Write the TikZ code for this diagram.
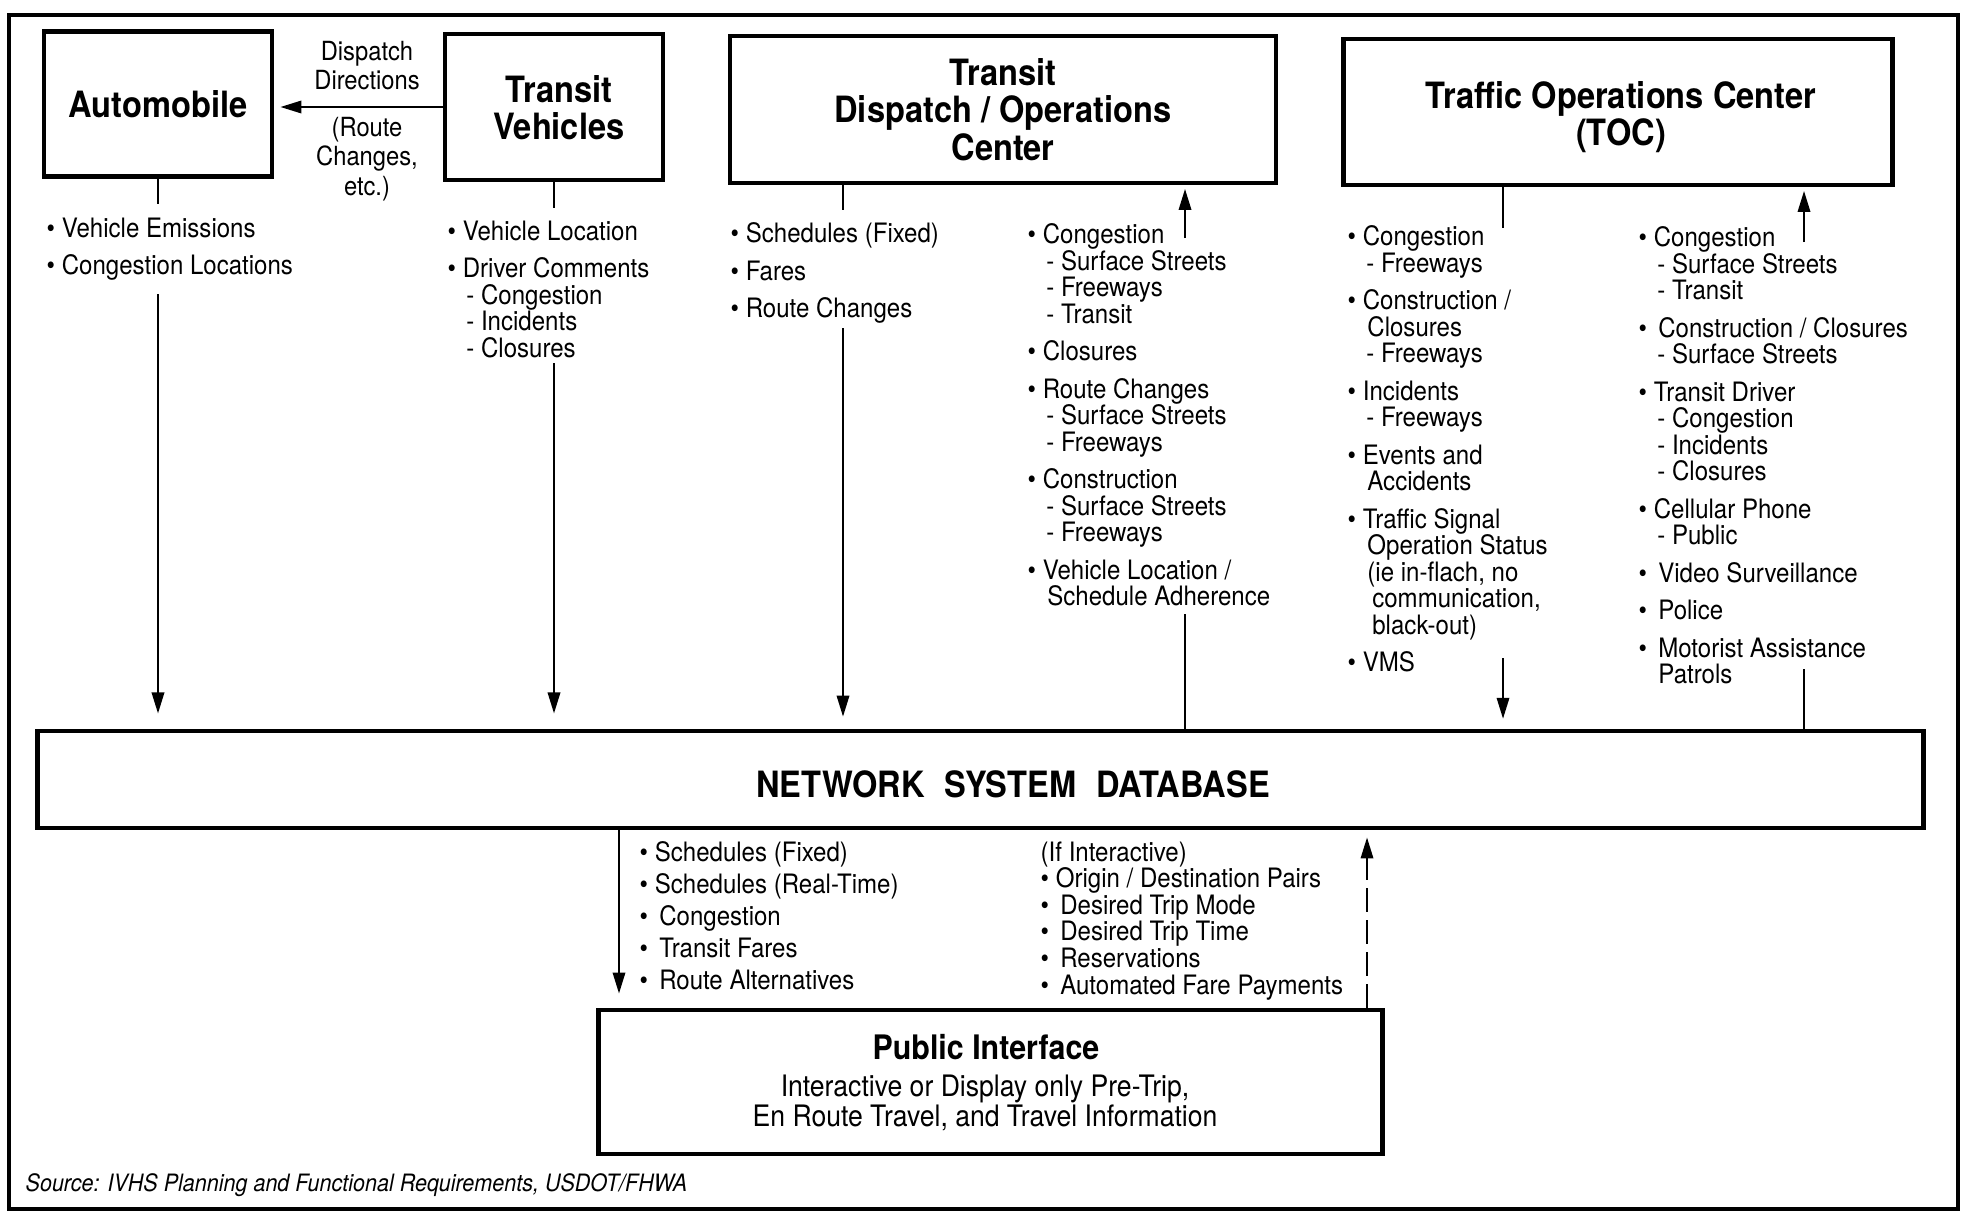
\documentclass[tikz,border=0pt]{standalone}
\usepackage{fontspec}
\setmainfont{TeX Gyre Heros}[FakeStretch=0.9]
\usetikzlibrary{arrows.meta}

\newcommand{\subln}{\hspace*{5.3pt}- }
\newcommand{\contln}{\hspace*{5.6pt}}

\tikzset{
  box/.style={draw, line width=1.3pt, inner sep=0pt, align=center, font=\fontsize{10.3}{10.6}\selectfont\bfseries},
  title/.style={inner sep=0pt, align=center, font=\fontsize{10.3}{10.6}\selectfont\bfseries},
  items/.style={anchor=north west, inner sep=0pt, align=left, font=\fontsize{7.6}{7.55}\selectfont},
  lbl/.style={inner sep=0pt, align=center, font=\fontsize{7.5}{8.3}\selectfont},
  link/.style={line width=0.7pt},
  arr/.style={line width=0.7pt, -{Triangle[length=6pt,width=3.5pt]}},
}

\begin{document}
\begin{tikzpicture}[x=0.01cm, y=-0.01cm]
\useasboundingbox (0,0) rectangle (1964,1212);
\draw[line width=1.4pt] (9,15) rectangle (1958,1209);

%% boxes
\node[box, minimum width=2.28cm, minimum height=1.45cm] (auto) at (158,104) {Automobile};
\node[box, minimum width=2.18cm, minimum height=1.46cm] (tv) at (554,107) {};
\node[title] (tvtitle) at (559,108) {Transit\\Vehicles};
\node[box, minimum width=5.46cm, minimum height=1.47cm] (disp) at (1003,109.5) {Transit\\Dispatch / Operations\\Center};
\node[box, minimum width=5.49cm, minimum height=1.46cm] (toc) at (1618,112) {};
\node[title] (toctitle) at (1621,117) {Traffic Operations Center\\(TOC)};
\node[box, minimum width=18.85cm, minimum height=0.97cm] (db) at (980.5,779.5) {};
\node[title] (dbtitle) at (1013,784) {NETWORK\hspace{0.55em}SYSTEM\hspace{0.55em}DATABASE};
\node[box, minimum width=7.83cm, minimum height=1.44cm] (pub) at (990.5,1082) {};
\node[title, font=\fontsize{9.6}{10}\selectfont\bfseries] (pubtitle) at (986,1047) {Public Interface};
\node[lbl, font=\fontsize{8.4}{8.5}\selectfont] (pubtext) at (985,1103) {Interactive or Display only Pre-Trip,\\En Route Travel, and Travel Information};

%% dispatch directions
\draw[arr, shorten >=1.7pt] (tv.west) -- (tv.west -| auto.east);
\node[lbl] (dirlbl) at (367,65.5) {Dispatch\\Directions};
\node[lbl] (routelbl) at (367,159) {(Route\\Changes,\\etc.)};

%% item lists
\node[items] (autolist) at (46,217) {• Vehicle Emissions\\[3.1pt]• Congestion Locations};
\node[items] (tvlist) at (447,220) {• Vehicle Location\\[3.1pt]• Driver Comments\\\subln Congestion\\\subln Incidents\\\subln Closures};
\node[items] (displeft) at (730,222) {• Schedules (Fixed)\\[3.1pt]• Fares\\[3.1pt]• Route Changes};
\node[items] (dispright) at (1027,223) {• Congestion\\\subln Surface Streets\\\subln Freeways\\\subln Transit\\[3.1pt]%
• Closures\\[3.1pt]• Route Changes\\\subln Surface Streets\\\subln Freeways\\[3.1pt]%
• Construction\\\subln Surface Streets\\\subln Freeways\\[3.1pt]%
• Vehicle Location /\\\contln Schedule Adherence};
\node[items] (tocleft) at (1347,225) {• Congestion\\\subln Freeways\\[3.1pt]%
• Construction /\\\contln Closures\\\subln Freeways\\[3.1pt]%
• Incidents\\\subln Freeways\\[3.1pt]%
• Events and\\\contln Accidents\\[3.1pt]%
• Traffic Signal\\\contln Operation Status\\\contln (ie in-flach, no\\\hspace*{7pt}communication,\\\hspace*{7pt}black-out)\\[3.1pt]%
• VMS};
\node[items] (tocright) at (1638,226) {• Congestion\\\subln Surface Streets\\\subln Transit\\[3.1pt]%
• \,Construction / Closures\\\subln Surface Streets\\[3.1pt]%
• Transit Driver\\\subln Congestion\\\subln Incidents\\\subln Closures\\[3.1pt]%
• Cellular Phone\\\subln Public\\[3.1pt]%
• \,Video Surveillance\\[3.1pt]• \,Police\\[3.1pt]%
• \,Motorist Assistance\\\contln Patrols};
\node[items, font=\fontsize{7.6}{9.1}\selectfont] (dbout) at (639,841) {• Schedules (Fixed)\\• Schedules (Real-Time)\\• \,Congestion\\• \,Transit Fares\\• \,Route Alternatives};
\node[items] (dbin) at (1040,841) {(If Interactive)\\• Origin / Destination Pairs\\• \,Desired Trip Mode\\• \,Desired Trip Time\\• \,Reservations\\• \,Automated Fare Payments};

%% connectors
\draw[link] (auto.south) -- (auto.south |- 0,204);
\draw[arr, shorten >=4.3pt] (auto.south |- 0,294) -- (auto.south |- db.north);
\draw[link] (tv.south) -- (tv.south |- 0,208);
\draw[arr, shorten >=4.3pt] (tv.south |- 0,363) -- (tv.south |- db.north);
\draw[link] (disp.south -| 843,0) -- (843,210);
\draw[arr, shorten >=3.4pt] (843,328) -- (db.north -| 843,0);
\draw[arr, shorten >=1pt] (1185,238) -- (disp.south -| 1185,0);
\draw[link] (1185,614) -- (db.north -| 1185,0);
\draw[link] (toc.south -| 1503,0) -- (1503,228);
\draw[arr, shorten >=2.8pt] (1503,658) -- (db.north -| 1503,0);
\draw[arr, shorten >=1pt] (1804,242) -- (toc.south -| 1804,0);
\draw[link] (1804,669) -- (db.north -| 1804,0);
\draw[arr, shorten >=4pt] (db.south -| 619,0) -- (pub.north -| 619,0);
\draw[arr, dash pattern=on 6.8pt off 2.3pt, shorten >=2pt] (pub.north -| 1367,0) -- (db.south -| 1367,0);

\node[anchor=west, inner sep=0pt, font=\fontsize{6.8}{7}\selectfont\itshape] (source) at (25,1185) {Source: IVHS Planning and Functional Requirements, USDOT/FHWA};
\end{tikzpicture}
\end{document}
